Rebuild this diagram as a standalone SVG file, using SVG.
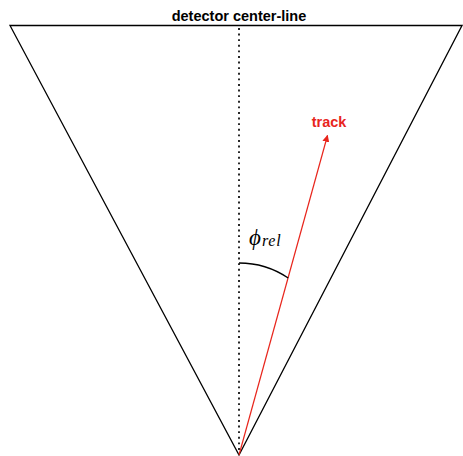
<svg xmlns="http://www.w3.org/2000/svg" width="463" height="456" viewBox="0 0 463 456">
<style>
.edge{fill:none;stroke:#000;stroke-width:1.3}
.center{fill:none;stroke:#111;stroke-width:1.8;stroke-dasharray:1.9 3.7}
.track{fill:none;stroke:#e8251c;stroke-width:1.2}
.lbl{font-family:"Liberation Sans",Arial,sans-serif;font-weight:bold;font-size:14.5px}
.math{font-family:"Liberation Serif","Times New Roman",serif;font-style:italic}
</style>
<defs>
<marker id="ah" viewBox="0 0 10 10" refX="9" refY="5" markerWidth="7" markerHeight="7" markerUnits="userSpaceOnUse" orient="auto">
<path d="M0,0 L10,5 L0,10 Z" fill="#e8251c"/>
</marker>
</defs>
<rect width="463" height="456" fill="#fff"/>
<g id="detector">
<path class="edge" d="M10,25.5 L462,25.5 L239,455 Z"/>
</g>
<g id="title">
<text class="lbl" x="239" y="21" text-anchor="middle" fill="#000">detector center-line</text>
</g>
<g id="connectors">
<line class="center" x1="239" y1="28" x2="239" y2="455"/>
<line class="track" x1="239" y1="455" x2="327.5" y2="135.5" marker-end="url(#ah)"/>
<path class="edge" d="M239,263 A88,88 0 0 1 288.2,278" stroke-width="1.4"/>
</g>
<g id="track-label">
<text class="lbl" x="329" y="127" text-anchor="middle" fill="#e8251c">track</text>
</g>
<g id="phi-label">
<text class="math" x="249" y="245" font-size="23" fill="#000">ϕ<tspan font-size="16" dy="1" dx="1" letter-spacing="0.8">rel</tspan></text>
</g>
</svg>
